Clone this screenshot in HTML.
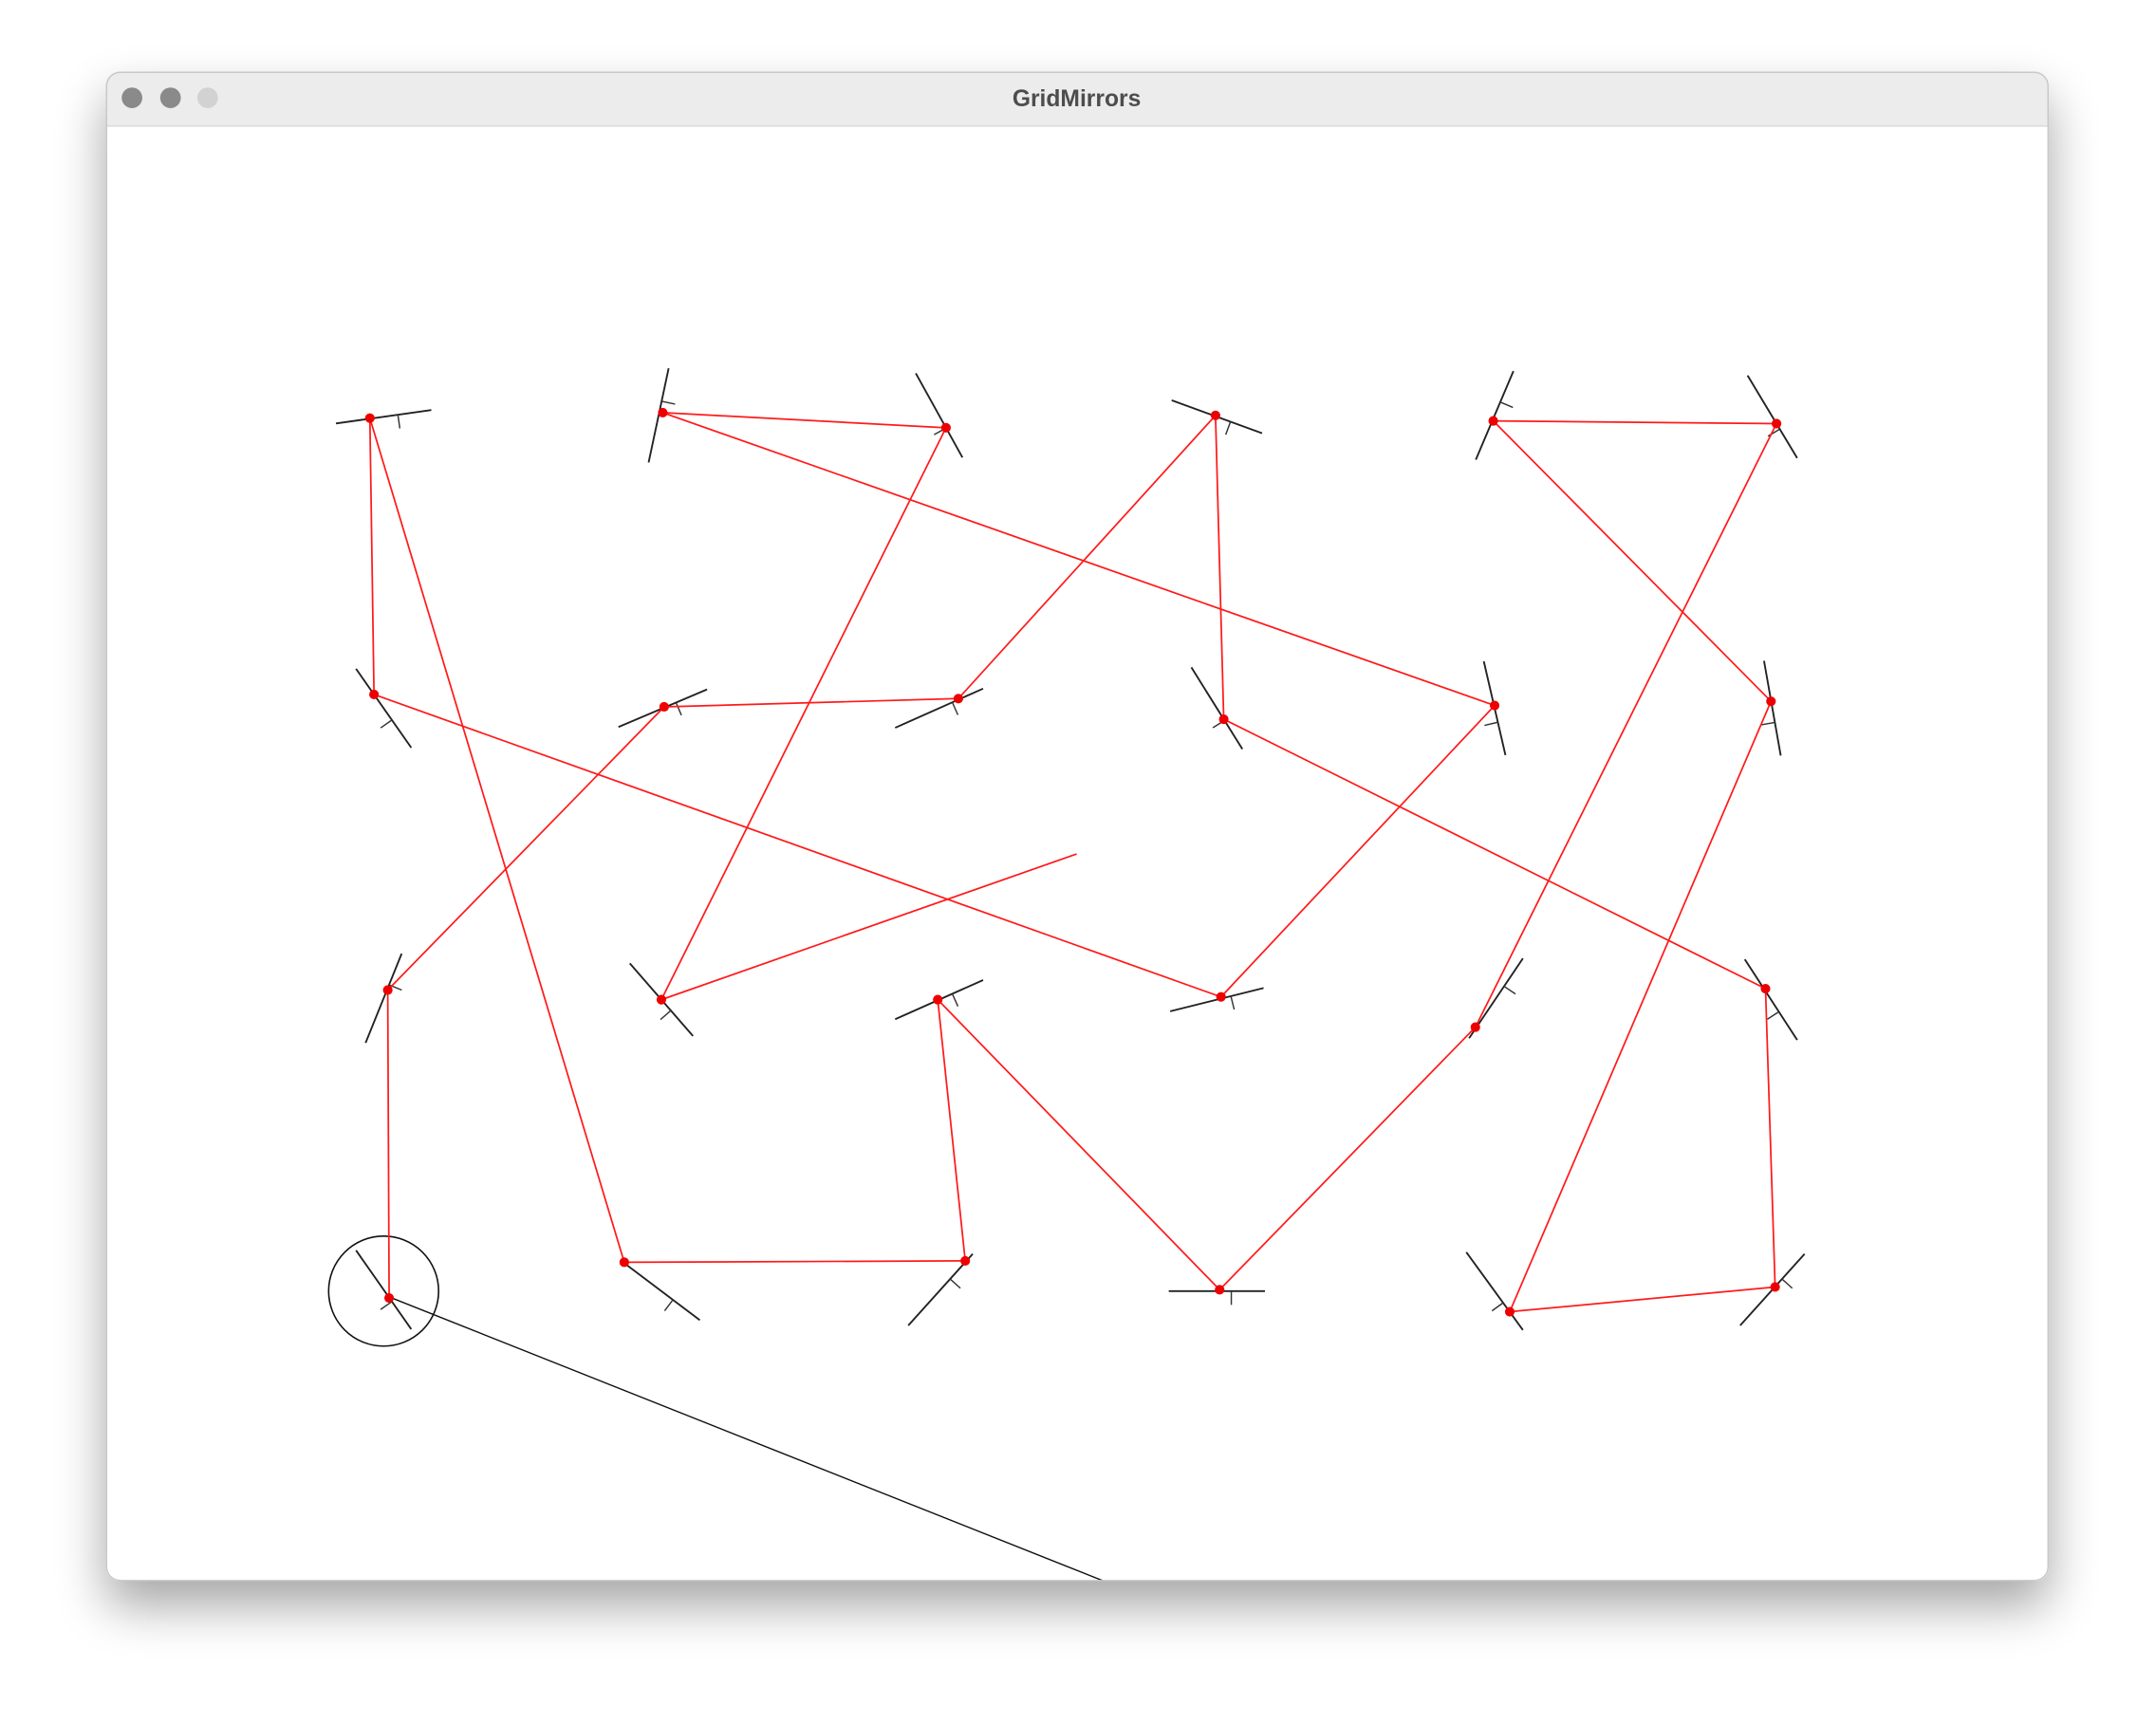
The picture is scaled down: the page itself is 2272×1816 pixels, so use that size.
<!DOCTYPE html>
<html><head><meta charset="utf-8"><style>
html,body{margin:0;padding:0;background:#fff;width:2272px;height:1816px;overflow:hidden}
svg{display:block}
</style></head><body>
<svg id="chart" width="2272" height="1816" viewBox="0 0 1568 1253" xmlns="http://www.w3.org/2000/svg">
<defs>
<filter id="sh" x="-10%" y="-10%" width="120%" height="130%"><feGaussianBlur stdDeviation="18"/></filter>
<clipPath id="win"><rect x="77" y="52" width="1413" height="1098" rx="10"/></clipPath>
</defs>
<rect x="77" y="70" width="1413" height="1098" rx="10" fill="#000" opacity="0.35" filter="url(#sh)"/>
<g clip-path="url(#win)">
<rect x="77" y="52" width="1413" height="1098" fill="#fff"/>
<rect x="77" y="52" width="1413" height="39" fill="#ececec"/>
<line x1="77" y1="91.5" x2="1490" y2="91.5" stroke="#d6d6d6" stroke-width="1"/>
<g id="scene"></g>
</g>
<rect x="77.5" y="52.5" width="1412" height="1097" rx="10" fill="none" stroke="#c8c8c8" stroke-width="1"/>
<circle cx="96" cy="71" r="7.5" fill="#8a8a8a"/>
<circle cx="124" cy="71" r="7.5" fill="#8a8a8a"/>
<circle cx="151" cy="71" r="7.5" fill="#d2d2d2"/>
<text x="783" y="77" text-anchor="middle" font-family="Liberation Sans, sans-serif" font-weight="bold" font-size="17" fill="#4d4d4d">GridMirrors</text>
</svg>
<script>
// laser path hit points (display coordinates)
const pathX = [283,282,483,697,884,890,1284,1291,1098,1288,1086,1292,1073,887,682,702,454,269,272,888,1087,482,688,481,783];
const pathY = [944,720,514,508,302,523,719,936,954,510,306,308,747,938,727,917,918,304,505,725,513,300,311,727,621];
// mirrors: center x, center y, angle (deg)
const mirX = [279,479,683,885,1087,1289, 279,482,683,885,1087,1289, 279,481,683,885,1088,1288, 279,481,684,885,1087,1289];
const mirY = [303,302,302,303,302,303, 515,515,515,515,515,515, 726,727,727,727,726,727, 938,939,938,939,939,938];
const mirA = [-8,-78,61,20,-67,59, 55,-23,-24,58,77,80, -68,49,-24,-14,-56,57, 55,37,-48,0,54,-48];
const startX = 285, startY = 944, endX = 803, endY = 1150;

const NS = "http://www.w3.org/2000/svg";
const scene = document.getElementById('scene');
function mk(tag, attrs){const e=document.createElementNS(NS,tag);for(const k in attrs)e.setAttribute(k,attrs[k]);scene.appendChild(e);return e;}

// source circle
const c = mk('circle',{cx:279,cy:939,r:40,fill:'none',stroke:'#111','stroke-width':1.1});


const bl = mk('line',{x1:startX,y1:startY,x2:endX,y2:endY,stroke:'#111','stroke-width':1});



// mirrors
for (let i=0;i<mirX.length;i++){
  const a = mirA[i]*Math.PI/180, L=35, dx=Math.cos(a)*L, dy=Math.sin(a)*L;
  const m = mk('line',{x1:mirX[i]-dx,y1:mirY[i]-dy,x2:mirX[i]+dx,y2:mirY[i]+dy,stroke:'#222','stroke-width':1.3});
  
  
  const nx=-Math.sin(a)*10, ny=Math.cos(a)*10;
  const t = mk('line',{x1:mirX[i]+dx*0.3,y1:mirY[i]+dy*0.3,x2:mirX[i]+dx*0.3+nx,y2:mirY[i]+dy*0.3+ny,stroke:'#333','stroke-width':1});
  
  
}
// laser segments
for (let i=0;i<pathX.length-1;i++){
  const s = mk('line',{x1:pathX[i],y1:pathY[i],x2:pathX[i+1],y2:pathY[i+1],stroke:'#ff1a1a','stroke-width':1.2});
  
  
}
for (let i=0;i<pathX.length-1;i++){
  const d = mk('circle',{cx:pathX[i],cy:pathY[i],r:3.5,fill:'#ee0000'});
  
  
}
</script>
</body></html>
